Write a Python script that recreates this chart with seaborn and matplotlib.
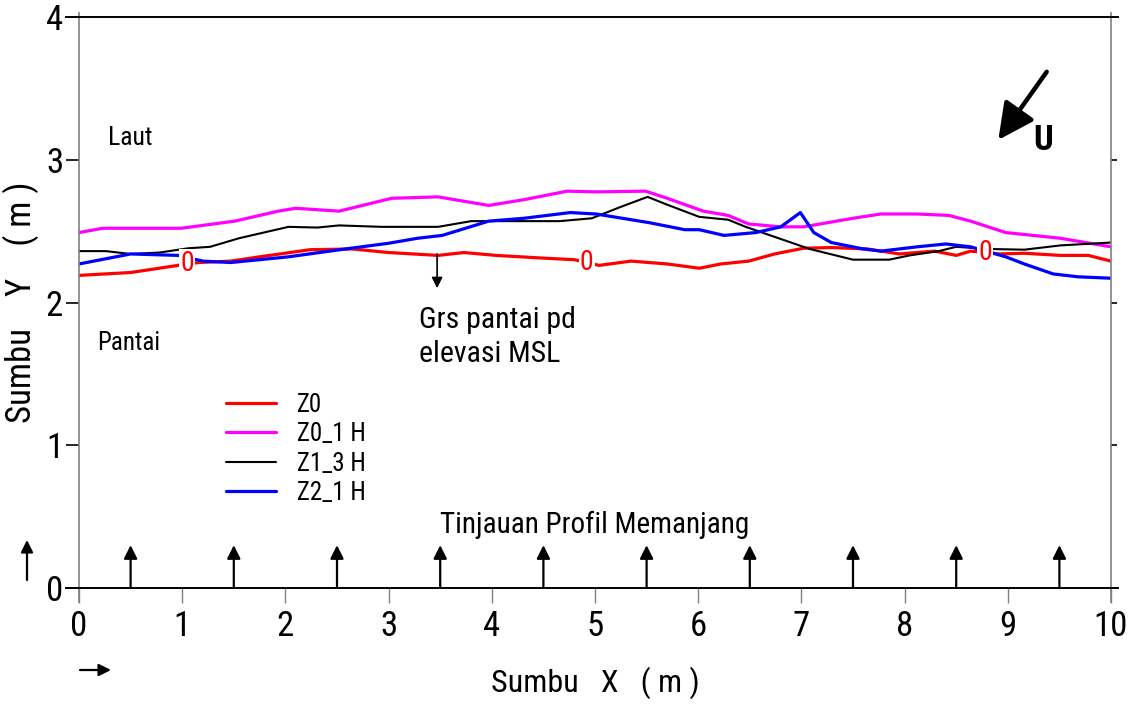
import numpy as np
import pandas as pd
import matplotlib
matplotlib.use("Agg")
import matplotlib.pyplot as plt
import seaborn as sns

# ---------------- data ----------------
z0_x = [0, 0.5, 0.96, 1.16, 1.47, 1.75, 2.24, 2.65, 3.0, 3.48, 3.73, 4.04, 4.52, 4.80, 5.04,
        5.35, 5.70, 6.01, 6.22, 6.49, 6.74, 7.02, 7.29, 7.64, 7.95, 8.29, 8.50, 8.64, 8.92,
        9.16, 9.51, 9.78, 10.0]
z0_y = [2.19, 2.21, 2.26, 2.28, 2.29, 2.32, 2.37, 2.375, 2.35, 2.33, 2.35, 2.33, 2.31, 2.30, 2.26,
        2.29, 2.27, 2.24, 2.27, 2.29, 2.34, 2.38, 2.385, 2.375, 2.34, 2.36, 2.33, 2.36, 2.34,
        2.345, 2.33, 2.33, 2.29]

z01_x = [0, 0.23, 0.5, 0.99, 1.51, 1.93, 2.10, 2.52, 3.03, 3.48, 3.97, 4.31, 4.73, 5.01, 5.49,
         5.70, 6.05, 6.29, 6.49, 6.80, 7.02, 7.50, 7.77, 8.12, 8.43, 8.64, 8.98, 9.51, 10.0]
z01_y = [2.49, 2.52, 2.52, 2.52, 2.57, 2.64, 2.66, 2.64, 2.73, 2.74, 2.68, 2.72, 2.78, 2.775, 2.78,
         2.73, 2.64, 2.61, 2.55, 2.53, 2.53, 2.59, 2.62, 2.62, 2.61, 2.57, 2.49, 2.45, 2.39]

z13_x = [0, 0.26, 0.5, 0.78, 1.06, 1.27, 1.55, 1.79, 2.03, 2.31, 2.52, 2.93, 3.48, 3.80, 4.24,
         4.66, 4.97, 5.25, 5.51, 5.70, 6.01, 6.29, 6.46, 6.74, 7.08, 7.50, 7.85, 8.05, 8.33,
         8.50, 8.81, 9.16, 9.51, 10.0]
z13_y = [2.36, 2.36, 2.34, 2.35, 2.38, 2.39, 2.45, 2.49, 2.53, 2.525, 2.54, 2.53, 2.53, 2.57, 2.57,
         2.57, 2.59, 2.67, 2.74, 2.685, 2.60, 2.58, 2.53, 2.46, 2.375, 2.30, 2.30, 2.33, 2.36,
         2.39, 2.375, 2.37, 2.40, 2.42]

z21_x = [0, 0.5, 0.96, 1.20, 1.47, 2.03, 2.58, 3.0, 3.28, 3.52, 3.97, 4.31, 4.76, 5.01, 5.52,
         5.87, 6.01, 6.25, 6.56, 6.80, 6.99, 7.12, 7.29, 7.60, 7.77, 8.12, 8.40, 8.64, 8.98,
         9.16, 9.44, 9.68, 10.0]
z21_y = [2.27, 2.34, 2.33, 2.29, 2.28, 2.32, 2.375, 2.415, 2.45, 2.47, 2.57, 2.59, 2.63, 2.62, 2.56,
         2.51, 2.51, 2.47, 2.49, 2.53, 2.63, 2.49, 2.42, 2.375, 2.36, 2.39, 2.41, 2.39, 2.32,
         2.27, 2.20, 2.18, 2.17]

series_names = ["Z0", "Z0_1 H", "Z1_3 H", "Z2_1 H"]
series_colors = ["#FF0000", "#FF00FF", "#000000", "#0000FF"]
series_widths = [2.3, 2.3, 1.5, 2.3]

contour_label_x = [1.05, 4.92, 8.78]
contour_label_y = [2.27, 2.28, 2.35]
contour_label_text = "0"

profile_arrow_x = [0.5, 1.5, 2.5, 3.5, 4.5, 5.5, 6.5, 7.5, 8.5, 9.5]
profile_arrow_len = 0.30

x_ticks = [0, 1, 2, 3, 4, 5, 6, 7, 8, 9, 10]
y_ticks = [0, 1, 2, 3, 4]

# ---------------- style ----------------
sns.set_theme(style="white")
FONT = ["Liberation Sans Narrow", "Roboto Condensed", "Open Sans Condensed",
        "Liberation Sans", "DejaVu Sans"]
plt.rcParams["font.family"] = FONT
plt.rcParams["text.color"] = "black"
plt.rcParams["axes.labelcolor"] = "black"
plt.rcParams["xtick.color"] = "black"
plt.rcParams["ytick.color"] = "black"

fig = plt.figure(figsize=(11.34, 7.09), dpi=100)
ax = fig.add_axes([79 / 1134, 1 - 588 / 709, (1111 - 79) / 1134, (588 - 17) / 709])

frames = []
for name, xs, ys in zip(series_names, [z0_x, z01_x, z13_x, z21_x], [z0_y, z01_y, z13_y, z21_y]):
    frames.append(pd.DataFrame({"x": xs, "y": ys, "series": name}))
df = pd.concat(frames, ignore_index=True)

for name, col, lw in zip(series_names, series_colors, series_widths):
    sub = df[df["series"] == name]
    sns.lineplot(data=sub, x="x", y="y", color=col, linewidth=lw, label=name,
                 ax=ax, estimator=None, sort=False)

# contour labels on Z0 line
for cx, cy in zip(contour_label_x, contour_label_y):
    ax.text(cx, cy, contour_label_text, color="#FF0000", fontsize=20, ha="center", va="center",
            bbox=dict(facecolor="white", edgecolor="none", pad=0.8), zorder=5)

ax.set_xlim(0, 10)
ax.set_ylim(0, 4)
ax.set_xticks(x_ticks)
ax.set_yticks(y_ticks)
ax.set_xticklabels([str(t) for t in x_ticks], fontsize=25)
ax.set_yticklabels([str(t) for t in y_ticks], fontsize=25)
ax.tick_params(axis="x", direction="out", length=10.5, width=1.0, color="#808080",
               labelcolor="black", pad=5, bottom=True, top=False)
ax.tick_params(axis="y", direction="out", length=9.5, width=1.2, color="black",
               labelcolor="black", pad=2, left=True, right=True)
for tk in ax.yaxis.get_major_ticks():
    tk.tick2line.set_markersize(4.5)

ax.set_xlabel("Sumbu   X   ( m )", fontsize=23, labelpad=17)
ax.set_ylabel("Sumbu    Y    ( m )", fontsize=25, labelpad=5)

for side in ["left", "right"]:
    ax.spines[side].set_color("#808080")
    ax.spines[side].set_linewidth(1.2)
for side in ["top", "bottom"]:
    ax.spines[side].set_color("black")
    ax.spines[side].set_linewidth(1.4)
ax.spines["left"].set_bounds(-0.1, 4.03)
ax.spines["right"].set_bounds(-0.1, 4.03)
ax.spines["top"].set_bounds(-0.13, 10.07)
ax.spines["bottom"].set_bounds(-0.13, 10.07)

# legend
leg = ax.legend(loc="upper left", bbox_to_anchor=(0.1425, 0.342), frameon=False, fontsize=18,
                handlelength=2.0, handletextpad=0.85, labelspacing=0.22, borderpad=0,
                borderaxespad=0)

# profile arrows
for px in profile_arrow_x:
    ax.annotate("", xy=(px, profile_arrow_len), xytext=(px, 0),
                arrowprops=dict(arrowstyle="-|>", color="black", lw=1.6, mutation_scale=20,
                                shrinkA=0, shrinkB=0))

ax.text(5.0, 0.386, "Tinjauan Profil Memanjang", fontsize=21, ha="center", va="baseline")

# shoreline annotation
ax.annotate("", xy=(3.47, 2.10), xytext=(3.47, 2.34),
            arrowprops=dict(arrowstyle="-|>", color="black", lw=1.2, mutation_scale=16,
                            shrinkA=0, shrinkB=0))
ax.text(3.29, 1.76, "Grs pantai pd\nelevasi MSL", fontsize=21.5, ha="left", va="center",
        linespacing=1.25)

ax.text(0.28, 3.10, "Laut", fontsize=18.5, ha="left", va="baseline")
ax.text(0.18, 1.67, "Pantai", fontsize=18, ha="left", va="baseline")

# north arrow
ax.annotate("", xy=(8.908, 3.139), xytext=(9.377, 3.616),
            arrowprops=dict(arrowstyle="-|>", color="black", lw=3.2, mutation_scale=55,
                            shrinkA=0, shrinkB=0))
ax.text(9.34, 3.07, "U", fontsize=25, fontweight="bold", ha="center", va="baseline")

# small direction arrows outside the axes
ax.annotate("", xy=(27, 709 - 540), xytext=(27, 709 - 580), xycoords="figure pixels",
            textcoords="figure pixels",
            arrowprops=dict(arrowstyle="-|>", color="black", lw=1.6, mutation_scale=18,
                            shrinkA=0, shrinkB=0), annotation_clip=False)
ax.annotate("", xy=(111, 709 - 670), xytext=(80, 709 - 670), xycoords="figure pixels",
            textcoords="figure pixels",
            arrowprops=dict(arrowstyle="-|>", color="black", lw=1.6, mutation_scale=18,
                            shrinkA=0, shrinkB=0), annotation_clip=False)

fig.savefig("out.png", dpi=100)
